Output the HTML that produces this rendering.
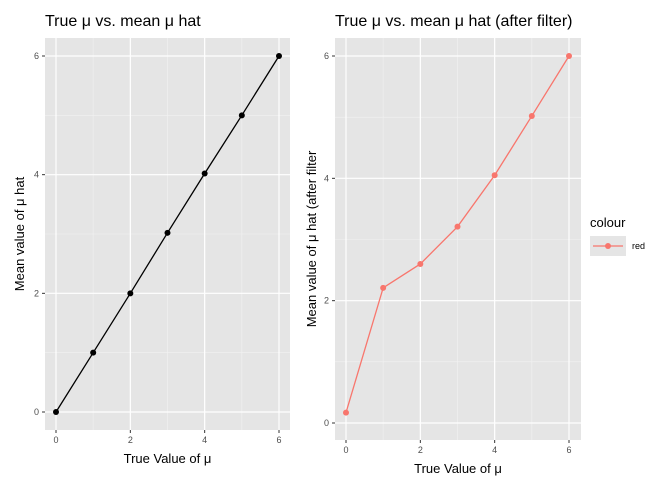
<!DOCTYPE html>
<html><head><meta charset="utf-8"><style>
body{margin:0;background:#fff;font-family:"Liberation Sans",sans-serif}
svg text{font-family:"Liberation Sans",sans-serif}
</style></head><body>
<svg id="c" width="672" height="480"></svg>
<script>
const xVals=[0,1,2,3,4,5,6];
const leftMeans=[0,1.0,2.0,3.02,4.02,5.0,6.0];
const rightMeans=[0.17,2.21,2.6,3.21,4.05,5.02,6.0];
const tickLabels=[0,2,4,6];
const svg=document.getElementById('c');
const NS='http://www.w3.org/2000/svg';
function mk(t,a,p){const e=document.createElementNS(NS,t);for(const k in a)e.setAttribute(k,a[k]);(p||svg).appendChild(e);return e;}
function panel(o){
  const g=mk('g',{});
  
  
  const sx=v=>o.x0+(o.x6-o.x0)*v/6, sy=v=>o.y0+(o.y6-o.y0)*v/6;
  const bg=mk('rect',{x:o.L,y:o.T,width:o.R-o.L,height:o.B-o.T,fill:'#e5e5e5'},g);
  
  for(let v=1;v<6;v+=2){mk('line',{x1:sx(v),x2:sx(v),y1:o.T,y2:o.B,stroke:'#f2f2f2','stroke-width':0.6},g);mk('line',{x1:o.L,x2:o.R,y1:sy(v),y2:sy(v),stroke:'#f2f2f2','stroke-width':0.6},g);}
  tickLabels.forEach(v=>{
    mk('line',{x1:sx(v),x2:sx(v),y1:o.T,y2:o.B,stroke:'#fff','stroke-width':1.2},g);
    mk('line',{x1:o.L,x2:o.R,y1:sy(v),y2:sy(v),stroke:'#fff','stroke-width':1.2},g);
    mk('line',{x1:sx(v),x2:sx(v),y1:o.B,y2:o.B+3,stroke:'#333'},g);
    mk('line',{x1:o.L-3,x2:o.L,y1:sy(v),y2:sy(v),stroke:'#333'},g);
    const tx=mk('text',{x:sx(v),y:o.B+13,'font-size':9,fill:'#4d4d4d','text-anchor':'middle'},g);tx.textContent=v;
    
    const ty=mk('text',{x:o.L-6,y:sy(v)+3,'font-size':9,fill:'#4d4d4d','text-anchor':'end'},g);ty.textContent=v;
    
  });
  const pts=xVals.map((x,i)=>sx(x)+','+sy(o.data[i])).join(' ');
  const pl=mk('polyline',{points:pts,fill:'none',stroke:o.col,'stroke-width':1.3},g);
  
  xVals.forEach((x,i)=>{const c=mk('circle',{cx:sx(x),cy:sy(o.data[i]),r:3,fill:o.col},g);
    });
  const t=mk('text',{x:o.L,y:26,'font-size':16,fill:'#000'},g);t.textContent=o.title;
  
  const xt=mk('text',{x:(o.L+o.R)/2,y:o.B+33,'font-size':13,'text-anchor':'middle'},g);xt.textContent='True Value of μ';
  
  const yc=(o.T+o.B)/2;
  const yt=mk('text',{x:o.yx,y:yc,'font-size':13,'text-anchor':'middle',transform:`rotate(-90 ${o.yx} ${yc})`},g);yt.textContent=o.ytitle;
  
}
panel({name:'left-panel',L:45,R:290,T:38,B:430,x0:56,x6:279,y0:412,y6:56,data:leftMeans,col:'#000',title:'True μ vs. mean μ hat',ytitle:'Mean value of μ hat',yx:24});
panel({name:'right-panel',L:335,R:581,T:38,B:440,x0:346,x6:569,y0:423,y6:56,data:rightMeans,col:'#f8766d',title:'True μ vs. mean μ hat (after filter)',ytitle:'Mean value of μ hat (after filter',yx:316});
const lg=mk('g',{});
const lt=mk('text',{x:590,y:227,'font-size':13},lg);lt.textContent='colour';

mk('rect',{x:590,y:236,width:36,height:20,fill:'#e5e5e5'},lg);
mk('line',{x1:593,x2:623,y1:246,y2:246,stroke:'#f8766d','stroke-width':1.3},lg);
mk('circle',{cx:608,cy:246,r:3,fill:'#f8766d'},lg);
const le=mk('text',{x:632,y:249,'font-size':9,fill:'#000'},lg);le.textContent='red';

</script>
</body></html>
